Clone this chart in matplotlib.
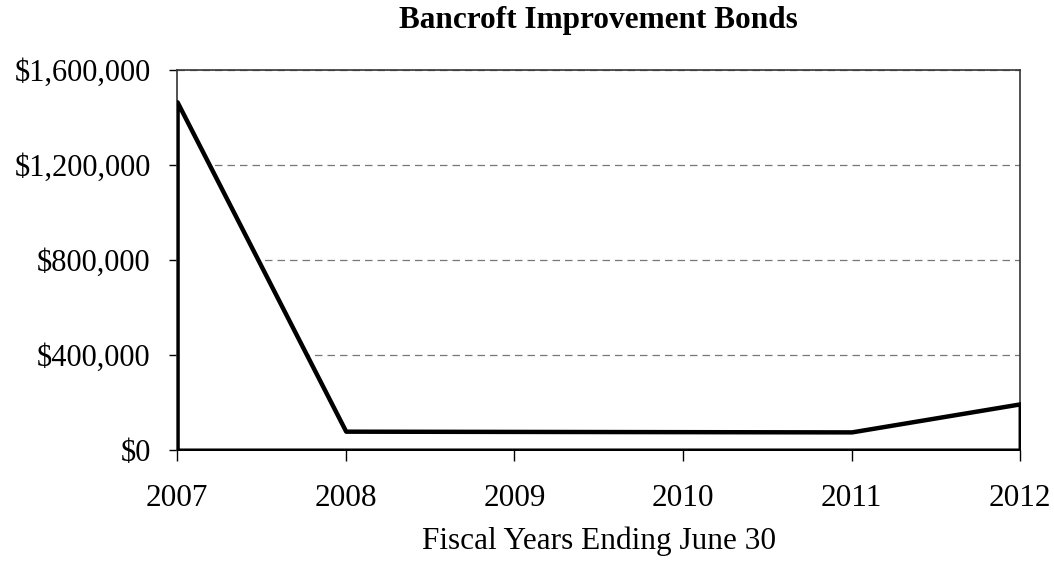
import matplotlib
matplotlib.use("Agg")
from matplotlib import pyplot as plt
from matplotlib.ticker import FuncFormatter

years = [2007, 2008, 2009, 2010, 2011, 2012]
balance = [1465000, 80000, 79000, 78000, 77000, 195000]

plt.rcParams['font.family'] = ['Liberation Serif', 'DejaVu Serif']

fig = plt.figure(figsize=(10.54, 5.67), dpi=100)
ax = fig.add_axes([0.168, 0.206, 0.8, 0.671])

# outlined area, no fill
ax.fill_between(years, balance, 0, facecolor='white', edgecolor='black', linewidth=3.2, zorder=3)

ax.set_xlim(2007, 2012)
ax.set_ylim(0, 1600000)
ax.set_yticks([0, 400000, 800000, 1200000, 1600000])
ax.set_xticks(years)
ax.yaxis.set_major_formatter(FuncFormatter(lambda v, p: "${:,.0f}".format(v)))

ax.grid(axis='y', color='#777777', linestyle=(0, (6, 4)), linewidth=0.9)
for s in ax.spines.values():
    s.set_linewidth(1.2)
    s.set_color('#333333')

ax.tick_params(axis='y', direction='out', length=6, width=1, labelsize=22, pad=13)
ax.tick_params(axis='x', direction='out', length=8, width=1, labelsize=22.5, pad=16)

ax.set_title("Bancroft Improvement Bonds", fontsize=22.5, fontweight='bold', pad=30)
ax.set_xlabel("Fiscal Years Ending June 30", fontsize=22.5, labelpad=10)

fig.savefig("out.png", dpi=100)
